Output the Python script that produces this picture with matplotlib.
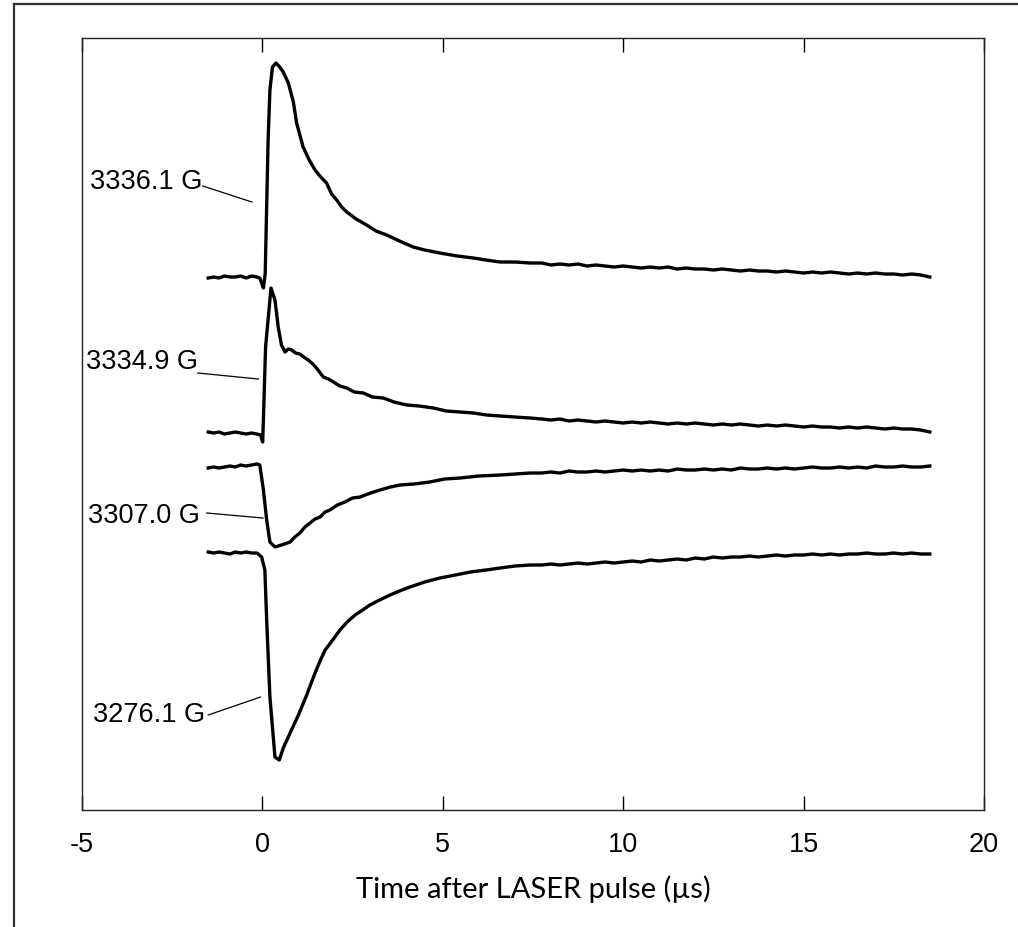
import numpy as np
import matplotlib
matplotlib.use('Agg')
import matplotlib.pyplot as plt
from matplotlib.lines import Line2D

plt.rcParams['font.family'] = ['Liberation Sans', 'DejaVu Sans']
plt.rcParams['axes.unicode_minus'] = False

# time after laser pulse (us), early part of each transient
t1 = [-1.5, -1.35, -1.2, -1.05, -0.9, -0.75, -0.6, -0.45, -0.3, -0.15,
      -0.07, 0.0, 0.03, 0.08, 0.16, 0.21, 0.28, 0.38, 0.46, 0.58,
      0.72, 0.86, 0.95, 1.13, 1.3, 1.46, 1.62, 1.78, 1.92, 2.06,
      2.2, 2.34, 2.6, 2.89, 3.15, 3.45, 3.8, 4.18, 4.5, 4.92,
      5.4, 5.85, 6.2, 6.59, 7.0, 7.42]
s1 = [-1, 0, -1, 1, 0, 0, 1, -1, 1, 0,
      -1, -8, -11, 4, 137, 187, 210, 214, 211, 205,
      194, 175, 154, 130, 117, 107, 100, 94, 83, 77,
      70, 65, 58, 52, 46, 42, 36, 30, 27, 24,
      21, 19, 17, 15, 15, 14]

t2 = [-1.5, -1.35, -1.2, -1.05, -0.9, -0.75, -0.6, -0.45, -0.3, -0.15,
      -0.05, 0.01, 0.09, 0.24, 0.35, 0.44, 0.53, 0.63, 0.72, 0.81,
      0.92, 1.04, 1.15, 1.27, 1.4, 1.5, 1.69, 1.83, 1.97, 2.15,
      2.34, 2.55, 2.8, 3.05, 3.35, 3.65, 4.0, 4.35, 4.74, 5.1,
      5.48, 5.85, 6.22, 6.6, 7.0, 7.42]
s2 = [1, 0, 1, -1, 0, 1, 0, -1, 0, -1,
      -2, -9, 86, 145, 133, 106, 88, 81, 84, 83,
      80, 79, 76, 73, 69, 65, 56, 54, 51, 47,
      45, 41, 40, 36, 35, 31, 28, 27, 25, 22,
      21, 20, 18, 17, 16, 15]

t3 = [-1.5, -1.35, -1.2, -1.05, -0.9, -0.75, -0.6, -0.45, -0.3, -0.15,
      -0.07, 0.03, 0.12, 0.21, 0.35, 0.53, 0.77, 0.9, 1.04, 1.18,
      1.32, 1.46, 1.6, 1.74, 1.87, 2.08, 2.29, 2.5, 2.71, 3.0,
      3.26, 3.55, 3.81, 4.2, 4.64, 5.05, 5.48, 6.0, 6.59, 7.0,
      7.42]
s3 = [-2, -1, -2, -1, 0, -1, 1, 0, 1, 2,
      1, -24, -54, -76, -81, -79, -76, -71, -67, -61,
      -57, -53, -51, -46, -44, -39, -36, -32, -31, -27,
      -24, -21, -19, -18, -16, -13, -12, -10, -9, -8,
      -7]

t4 = [-1.5, -1.35, -1.2, -1.05, -0.9, -0.75, -0.6, -0.45, -0.3, -0.15,
      -0.02, 0.07, 0.12, 0.21, 0.35, 0.47, 0.58, 0.77, 1.0, 1.23,
      1.46, 1.6, 1.74, 1.95, 2.15, 2.35, 2.57, 2.78, 2.98, 3.25,
      3.54, 3.8, 4.09, 4.5, 4.92, 5.35, 5.76, 6.2, 6.59, 7.0,
      7.42]
s4 = [1, 0, 1, 0, -1, 1, 0, 1, 0, 0,
      -4, -17, -67, -144, -204, -207, -195, -180, -162, -142,
      -120, -108, -97, -87, -77, -69, -62, -57, -52, -47,
      -42, -38, -34, -29, -25, -22, -19, -17, -15, -13,
      -12]

# common tail of the transients
t_tail = [7.75, 8.0, 8.25, 8.5, 8.75, 9.0, 9.25, 9.5, 9.75, 10.0,
          10.25, 10.5, 10.75, 11.0, 11.25, 11.5, 11.75, 12.0, 12.25, 12.5,
          12.75, 13.0, 13.25, 13.5, 13.75, 14.0, 14.25, 14.5, 14.75, 15.0,
          15.25, 15.5, 15.75, 16.0, 16.25, 16.5, 16.75, 17.0, 17.25, 17.5,
          17.75, 18.0, 18.25, 18.5]
tail1 = [14, 12, 13, 12, 13, 11, 12, 11, 10, 11,
         10, 9, 10, 9, 10, 8, 9, 8, 8, 7,
         8, 7, 6, 7, 6, 6, 5, 6, 5, 4,
         5, 4, 5, 4, 3, 4, 3, 4, 3, 3,
         2, 3, 2, 0]
tail2 = [14, 13, 14, 12, 13, 12, 11, 12, 11, 10,
         11, 10, 11, 10, 9, 10, 9, 10, 9, 8,
         9, 8, 9, 8, 7, 8, 7, 8, 7, 6,
         7, 6, 6, 5, 6, 5, 6, 5, 4, 5,
         4, 4, 3, 1]
tail3 = [-7, -6, -7, -5, -6, -6, -5, -6, -5, -4,
         -5, -4, -5, -4, -5, -3, -4, -4, -3, -4,
         -3, -4, -2, -3, -3, -2, -3, -2, -3, -2,
         -1, -2, -2, -1, -2, -1, -2, 0, -1, -1,
         0, -1, -1, 0]
tail4 = [-12, -11, -12, -11, -10, -11, -10, -9, -10, -9,
         -8, -9, -7, -8, -7, -6, -7, -5, -6, -4,
         -5, -4, -4, -3, -4, -3, -2, -3, -2, -2,
         -1, -2, -1, -2, -1, -1, 0, -1, -1, 0,
         -1, 0, -1, -1]

fields = ['3336.1 G', '3334.9 G', '3307.0 G', '3276.1 G']
offsets = [533, 377, 344, 257]

# label text (right edge) and leader line start/end
label_pos = [(-1.65, 628), (-1.79, 448), (-1.73, 294), (-1.59, 95)]
leader_from = [(-1.65, 624), (-1.79, 437), (-1.54, 297), (-1.50, 95)]
leader_to = [(-0.29, 608), (-0.11, 431), (0.02, 292), (-0.05, 113)]

fig = plt.figure(figsize=(10.18, 9.27), dpi=100)
ax = fig.add_axes([0.0805, 0.1262, 0.886, 0.8328])

traces = [(t1, s1, tail1), (t2, s2, tail2), (t3, s3, tail3), (t4, s4, tail4)]
for (t, s, tail), off in zip(traces, offsets):
    tt = np.array(t + t_tail)
    ss = np.array(s + tail) + off
    ax.plot(tt, ss, color='black', lw=2.4, solid_joinstyle='round')

for name, lp, a, b in zip(fields, label_pos, leader_from, leader_to):
    ax.text(lp[0], lp[1], name, ha='right', va='center', fontsize=19.5)
    ax.plot([a[0], b[0]], [a[1], b[1]], color='black', lw=0.9)

ax.set_xlim(-5, 20)
ax.set_ylim(0, 772)
ax.set_xticks([-5, 0, 5, 10, 15, 20])
ax.set_yticks([])
ax.tick_params(axis='x', direction='in', top=True, length=10, width=1,
               labelsize=19.5, pad=16)
for sp in ax.spines.values():
    sp.set_linewidth(1.0)
    sp.set_color('#222222')

ax.set_xlabel('Time after LASER pulse (\u00b5s)', fontsize=21,
              family=['Lato', 'DejaVu Sans'], labelpad=12)

# frame around the figure
fig.add_artist(Line2D([14/1018, 14/1018], [0, 1 - 4/927], color='#333333', lw=1.6))
fig.add_artist(Line2D([14/1018, 1], [1 - 4/927, 1 - 4/927], color='#333333', lw=1.6))

fig.savefig('out.png', dpi=100)
